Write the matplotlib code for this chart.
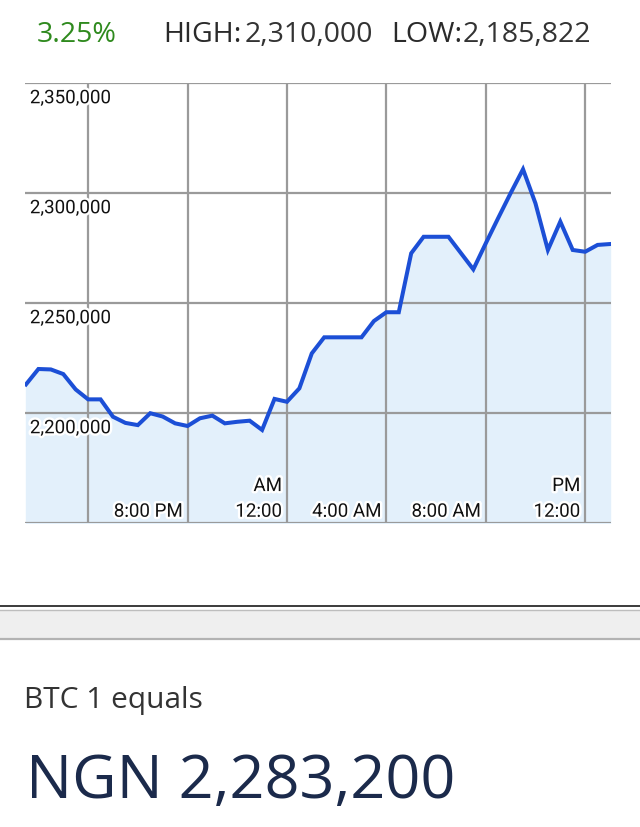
import matplotlib
matplotlib.use("Agg")
import matplotlib.pyplot as plt
import matplotlib.patheffects as pe
from matplotlib.patches import Rectangle
from matplotlib.lines import Line2D

# ---- data (hours relative to 4:00 PM, 30-minute samples) ----
hours = [-2.5, -2.0, -1.5, -1.0, -0.5, 0.0, 0.5, 1.0, 1.5, 2.0, 2.5, 3.0,
         3.5, 4.0, 4.5, 5.0, 5.5, 6.0, 6.5, 7.0, 7.5, 8.0, 8.5, 9.0,
         9.5, 10.0, 10.5, 11.0, 11.5, 12.0, 12.5, 13.0, 13.5, 14.0, 14.5, 15.0,
         15.5, 16.0, 16.5, 17.0, 17.5, 18.0, 18.5, 19.0, 19.5, 20.0, 20.5, 21.0]
prices = [2213000, 2220000, 2219800, 2217700, 2210700, 2206200, 2206200, 2198300,
          2195500, 2194500, 2199900, 2198400, 2195300, 2194100, 2197600, 2198800,
          2195300, 2196000, 2196500, 2192300, 2206400, 2205100, 2211200, 2227100,
          2234400, 2234400, 2234400, 2234400, 2241800, 2245800, 2245800, 2272600,
          2280100, 2280100, 2280100, 2272700, 2265300, 2277100, 2288600, 2299900,
          2310800, 2295300, 2274100, 2287000, 2274100, 2273300, 2276400, 2276800]

y_ticks = [2150000, 2200000, 2250000, 2300000, 2350000]
y_labels = ["", "2,200,000", "2,250,000", "2,300,000", "2,350,000"]
x_ticks = [0, 4, 8, 12, 16, 20]
x_labels = ["", "8:00 PM", "12:00", "4:00 AM", "8:00 AM", "12:00"]
x_upper = ["", "", "AM", "", "", "PM"]

change_pct = "3.25%"
high_val = "2,310,000"
low_val = "2,185,822"
rate_val = "NGN 2,283,200"

W, H = 640, 827
fig = plt.figure(figsize=(W / 100, H / 100), dpi=100)
fig.patch.set_facecolor("white")

def fx(px):
    return px / W

def fy(py):
    return 1 - py / H

ax = fig.add_axes([fx(25), fy(523), (611 - 25) / W, (523 - 83) / H])
ax.set_xlim(-2.54, 21.04)
ax.set_ylim(2150000, 2350000)
for s in ax.spines.values():
    s.set_visible(False)
ax.set_xticks(x_ticks)
ax.set_yticks(y_ticks)
ax.tick_params(length=0, labelleft=False, labelbottom=False)
ax.grid(True, color="#9a9a9a", linewidth=1.6, zorder=2)
ax.set_axisbelow("line")

ax.fill_between(hours, prices, 2150000, color="#e3f0fb", zorder=1)
ax.plot(hours, prices, color="#1c4fd6", linewidth=2.9, solid_joinstyle="miter", zorder=3)

halo = [pe.withStroke(linewidth=3.5, foreground="white")]
lab_font = dict(family="Roboto", size=13.5, color="#111111")
for v, lab in zip(y_ticks, y_labels):
    if lab:
        ax.annotate(lab, xy=(0, v), xycoords=("axes fraction", "data"),
                    xytext=(3.5, -4.5), textcoords="offset points",
                    ha="left", va="top", path_effects=halo, zorder=5, **lab_font)
for t, lab, up in zip(x_ticks, x_labels, x_upper):
    if lab:
        ax.annotate(lab, xy=(t, 0), xycoords=("data", "axes fraction"),
                    xytext=(-3.5, 4.5), textcoords="offset points",
                    ha="right", va="baseline", path_effects=halo, zorder=5, **lab_font)
    if up:
        ax.annotate(up, xy=(t, 0), xycoords=("data", "axes fraction"),
                    xytext=(-3.5, 23), textcoords="offset points",
                    ha="right", va="baseline", path_effects=halo, zorder=5, **lab_font)

# ---- header ----
hdr = "Open Sans"
base_y = fy(42)
hs = 20.5
fig.text(fx(37), base_y, change_pct, family=hdr, size=hs, color="#2f8a1e", va="baseline")
fig.text(fx(163), base_y, "HIGH:", family=hdr, size=hs, color="#2a2a2a", va="baseline")
fig.text(fx(245), base_y, high_val, family=hdr, size=hs, color="#333333",
         weight="medium", va="baseline")
fig.text(fx(391), base_y, "LOW:", family=hdr, size=hs, color="#2a2a2a", va="baseline")
fig.text(fx(463), base_y, low_val, family=hdr, size=hs, color="#333333",
         weight="medium", va="baseline")

# ---- separator band ----
fig.add_artist(Rectangle((0, fy(638)), 1, (638 - 610) / H, transform=fig.transFigure,
                         facecolor="#efefef", edgecolor="none"))
fig.add_artist(Line2D([0, 1], [fy(606), fy(606)], transform=fig.transFigure,
                      color="#1a1a1a", linewidth=1.2))
fig.add_artist(Line2D([0, 1], [fy(609.5), fy(609.5)], transform=fig.transFigure,
                      color="#bdbdbd", linewidth=1.0))
fig.add_artist(Line2D([0, 1], [fy(638.5), fy(638.5)], transform=fig.transFigure,
                      color="#b3b3b3", linewidth=1.6))

# ---- bottom text ----
fig.text(fx(24), fy(708), "BTC 1 equals", family=hdr, size=21.5, color="#333333", va="baseline")
fig.text(fx(26), fy(798), rate_val, family=hdr, size=44, color="#1b2a4b", va="baseline")

fig.savefig("out.png", dpi=100, facecolor="white")
